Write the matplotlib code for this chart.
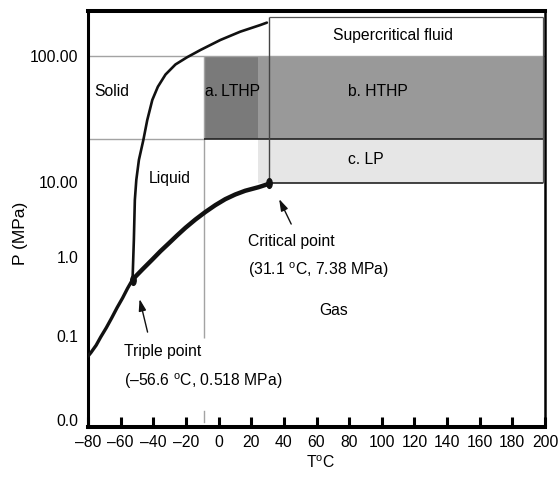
import numpy as np
import matplotlib
matplotlib.use("Agg")
import matplotlib.pyplot as plt
from matplotlib.path import Path

plt.rcParams["font.family"] = ["Liberation Sans", "DejaVu Sans"]
plt.rcParams["mathtext.fontset"] = "custom"
plt.rcParams["mathtext.rm"] = "Liberation Sans"
plt.rcParams["mathtext.it"] = "Liberation Sans:italic"

# axis ticks
T_TICKS = list(range(-80, 201, 20))
T_TICK_LABELS = [str(t).replace("-", "\u2013") for t in T_TICKS]
P_TICKS = [0.0, 0.1, 1.0, 10.0, 100.0]
P_TICK_LABELS = ["0.0", "0.1", "1.0", "10.00", "100.00"]

# phase boundaries (T in degC, P in MPa)
melting_T = [-52.7, -51.9, -51.3, -50.4, -48.8, -46.1, -43.7, -40.6, -37.2, -32.5,
             -26.4, -19.3, -11.1, 1.1, 13.3, 25.5, 29.6]
melting_P = [0.518, 1.69, 5.75, 10.4, 15.0, 21.5, 31.0, 44.8, 57.0, 71.3,
             85.7, 97.7, 111.6, 134, 156, 176, 184]

vapor_T = [-52.7, -46.7, -40.6, -35.6, -30.5, -25.4, -20.3, -14.2, -8.1, -2.0,
           4.1, 10.2, 16.3, 24.5, 31.1]
vapor_P = [0.518, 0.695, 0.929, 1.195, 1.52, 1.94, 2.45, 3.16, 3.98, 4.91,
           5.90, 6.81, 7.64, 8.53, 9.5]

sublim_T = [-80.0, -78.3, -75.0, -72.2, -68.8, -65.5, -62.2, -58.8, -55.8, -52.7]
sublim_P = [0.076, 0.080, 0.089, 0.0988, 0.127, 0.169, 0.228, 0.303, 0.40, 0.518]

triple_pt = (-52.7, 0.518)
critical_pt = (31.1, 9.7)

# process regions: (T_left, T_right, P_low, P_high)
lthp_box = (-9.0, 24.0, 22.0, 100.0)
hthp_box = (24.0, 198.5, 22.0, 100.0)
lp_box = (24.0, 198.5, 9.7, 22.0)
sc_box = (31.1, 198.5, 100.0, 204.0)

# the y axis of the original is a stretched, hand-drawn log axis
LOG_ANCHORS = [-1, 0, 1, 2, 3]
U_ANCHORS = [91, 170, 245, 371, 497]


def p_to_u(p):
    p = np.asarray(p, dtype=float)
    logp = np.log10(np.clip(p, 1e-6, None))
    u_log = np.interp(logp, LOG_ANCHORS, U_ANCHORS)
    u_lin = 7 + p / 0.1 * 84
    return np.where(p < 0.1, u_lin, u_log)


def u_to_p(u):
    u = np.asarray(u, dtype=float)
    p_log = 10 ** np.interp(u, U_ANCHORS, LOG_ANCHORS)
    p_lin = (u - 7) / 84 * 0.1
    return np.where(u < 91, p_lin, p_log)


def draw_regions(ax):
    for box, col in [(lthp_box, "#7a7a7a"), (hthp_box, "#999999"), (lp_box, "#e6e6e6")]:
        ax.fill_between([box[0], box[1]], box[2], box[3], color=col, lw=0, zorder=1)

    grid_col = "#a3a3a3"
    ax.axhline(100.0, color=grid_col, lw=1.0, zorder=2)
    ax.hlines(22.0, -80, lthp_box[0], color=grid_col, lw=1.0, zorder=2)
    ax.vlines(lthp_box[0], 0.098, 100.0, color=grid_col, lw=1.0, zorder=2)
    ax.axvline(lthp_box[0], ymin=5 / 416, ymax=16 / 416, color=grid_col, lw=1.0, zorder=2)

    edge = "#222222"
    ax.hlines(22.0, lthp_box[0], hthp_box[1], color=edge, lw=1.2, zorder=3)
    ax.hlines(lp_box[2], critical_pt[0], lp_box[1], color=edge, lw=1.2, zorder=3)
    ax.vlines(critical_pt[0], critical_pt[1], sc_box[3], color="#444444", lw=1.0, zorder=3)
    ax.hlines(sc_box[3], sc_box[0], sc_box[1], color="#555555", lw=0.9, zorder=3)
    ax.vlines(sc_box[1], lp_box[2], sc_box[3], color="#555555", lw=0.9, zorder=3)


def draw_curves(ax):
    ax.plot(melting_T, melting_P, color="#111111", lw=1.9, zorder=5,
            solid_capstyle="round", solid_joinstyle="round")
    ax.plot(vapor_T, vapor_P, color="#111111", lw=3.2, zorder=5,
            solid_capstyle="round", solid_joinstyle="round")
    ax.plot(sublim_T, sublim_P, color="#111111", lw=2.4, zorder=5,
            solid_capstyle="round", solid_joinstyle="round")

    blob = Path.unit_circle().transformed(matplotlib.transforms.Affine2D().scale(0.55, 1.0))
    for pt in (triple_pt, critical_pt):
        ax.plot(pt[0], pt[1], marker=blob, ms=7, color="#111111", zorder=6)

    arrow = dict(arrowstyle="-|>,head_length=0.7,head_width=0.22", color="#111111", lw=1.0,
                 shrinkA=0, shrinkB=0)
    ax.annotate("", xy=(37.1, 5.93), xytext=(44.5, 2.75), arrowprops=arrow, zorder=6)
    ax.annotate("", xy=(-48.4, 0.294), xytext=(-43.5, 0.112), arrowprops=arrow, zorder=6)


def draw_labels(ax):
    fs = 11.3
    ax.text(106.7, 146, "Supercritical fluid", ha="center", va="center", fontsize=fs, zorder=7)
    ax.text(97.5, 51.8, "b. HTHP", ha="center", va="center", fontsize=fs, zorder=7)
    ax.text(90.2, 15.2, "c. LP", ha="center", va="center", fontsize=fs, zorder=7)
    ax.text(-8.6, 52.7, "a.\u2009LTHP", ha="left", va="center", fontsize=fs, zorder=7)
    ax.text(-76.4, 52.7, "Solid", ha="left", va="center", fontsize=fs, zorder=7)
    ax.text(-42.9, 10.6, "Liquid", ha="left", va="center", fontsize=fs, zorder=7)
    ax.text(70.7, 0.213, "Gas", ha="center", va="center", fontsize=fs, zorder=7)
    ax.text(18.2, 1.63, "Critical point", ha="left", va="center", fontsize=fs, zorder=7)
    ax.text(18.2, 0.726, r"(31.1 $^{\mathrm{o}}$C, 7.38 MPa)", ha="left", va="center_baseline",
            fontsize=fs, zorder=7)
    ax.text(-58.2, 0.081, "Triple point", ha="left", va="center", fontsize=fs, zorder=7)
    ax.text(-58.2, 0.0488, "(\u201356.6 $^{\\mathrm{o}}$C, 0.518 MPa)", ha="left",
            va="center_baseline", fontsize=fs, zorder=7)


fig = plt.figure(figsize=(5.58, 4.79), dpi=100)
ax = fig.add_axes([88 / 558, 1 - 427 / 479, 457 / 558, 416 / 479])
ax.set_yscale("function", functions=(p_to_u, u_to_p))

draw_regions(ax)
draw_curves(ax)
draw_labels(ax)

ax.set_xlim(-80, 200)
ax.set_ylim(float(u_to_p(0)), float(u_to_p(416)))

ax.set_xticks(T_TICKS)
ax.set_xticklabels(T_TICK_LABELS)
ax.set_yticks(P_TICKS)
ax.set_yticklabels(P_TICK_LABELS)
ax.yaxis.set_minor_locator(matplotlib.ticker.NullLocator())
ax.xaxis.set_minor_locator(matplotlib.ticker.NullLocator())
ax.tick_params(axis="x", direction="in", length=7, width=2.2, pad=6, labelsize=11.3)
ax.tick_params(axis="y", length=0, pad=7, labelsize=11.3)

ax.spines["top"].set_linewidth(2.9)
ax.spines["bottom"].set_linewidth(2.9)
ax.spines["left"].set_linewidth(2.2)
ax.spines["right"].set_linewidth(1.8)

ax.set_xlabel(r"T$^{\mathrm{o}}$C", fontsize=11.3)
ax.xaxis.set_label_coords(0.508, -0.067)
ax.set_ylabel("P (MPa)", fontsize=12.5)
ax.yaxis.set_label_coords(-0.131, 0.466)

plt.savefig("out.png", dpi=100)
